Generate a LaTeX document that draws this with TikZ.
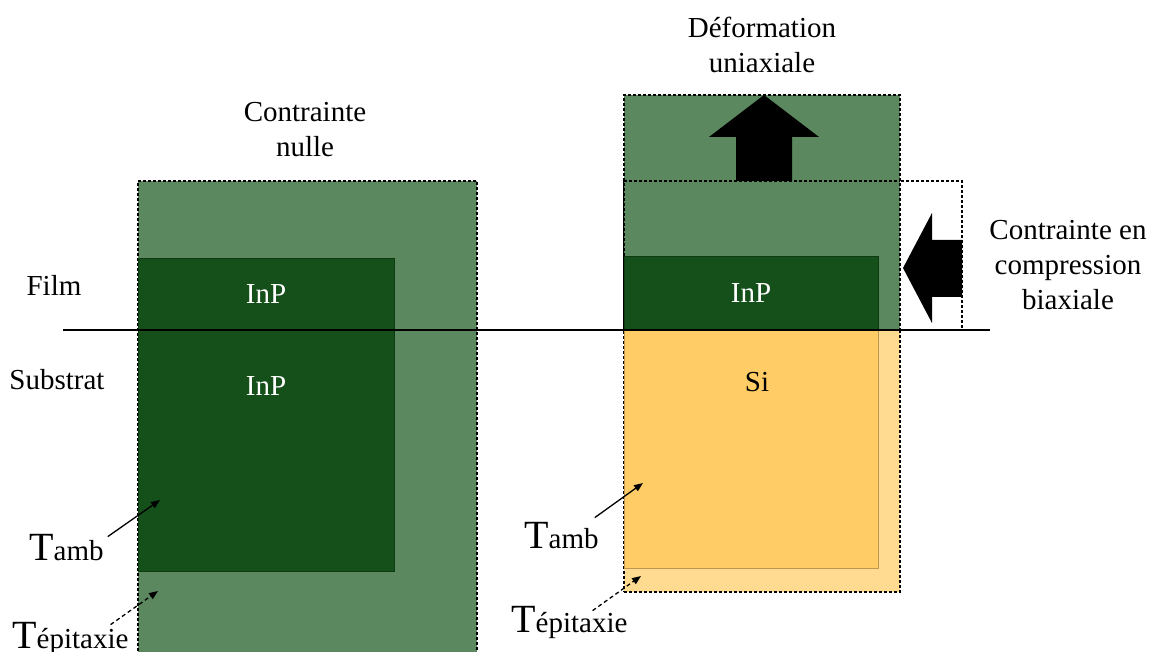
\documentclass[tikz,border=0pt]{standalone}
\usepackage{fontspec}
\setmainfont{Liberation Serif}
\usepackage{xcolor}
\usepackage{tikz}
\usetikzlibrary{arrows.meta, positioning, calc}

\definecolor{filmlight}{RGB}{91,136,95}
\definecolor{filmdark}{RGB}{21,79,26}
\definecolor{filmedge}{RGB}{14,58,18}
\definecolor{sidark}{RGB}{255,204,102}
\definecolor{silight}{RGB}{255,218,145}
\definecolor{siedge}{RGB}{190,150,80}

\begin{document}
\begin{tikzpicture}[
    x=1pt, y=-1pt,
    txt/.style={font=\fontsize{29}{35}\selectfont, align=center, inner sep=0pt},
    layer/.style={rectangle, inner sep=0pt, outer sep=0pt, anchor=north west},
    relaxed/.style={layer, draw=black, dash pattern=on 3pt off 2pt, line width=1.1pt},
    crystal/.style={layer, draw=filmedge, line width=0.8pt, fill=filmdark},
    silicon/.style={layer, draw=siedge, line width=0.8pt, fill=sidark},
    pointer/.style={-{Triangle[length=9pt, width=7pt]}, line width=1.3pt},
    epipointer/.style={pointer, dash pattern=on 4pt off 3pt}
]
\useasboundingbox (0,0) rectangle (1157,652);

% Left: InP on InP, no strain
\node[relaxed, fill=filmlight, minimum width=339pt, minimum height=480pt] (nullOuter) at (138,181) {};
\node[crystal, minimum width=256pt, minimum height=72pt] (nullFilm) at (138,258) {};
\node[crystal, minimum width=256pt, minimum height=241pt] (nullSub) at (138,330) {};
\node[txt, text=white] (nullFilmLbl) at (nullFilm.center) {InP};
\node[txt, text=white] (nullSubLbl) at (266,386) {InP};
\node[txt] (nullTitle) at (305,130) {Contrainte\\nulle};

% Right: InP on Si
\node[relaxed, fill=silight, minimum width=276pt, minimum height=262pt] (siOuter) at (624,330) {};
\node[silicon, minimum width=254pt, minimum height=238pt] (siSub) at (624,330) {};
\node[txt] (siLbl) at (757,382) {Si};
\node[relaxed, minimum width=338pt, minimum height=149pt] (origBox) at (624,181) {};
\node[relaxed, fill=filmlight, minimum width=276pt, minimum height=235pt] (strainOuter) at (624,95) {};
\draw[dash pattern=on 3pt off 2pt, line width=1.1pt] (origBox.north west) -- (strainOuter.east |- origBox.north);
\node[crystal, minimum width=254pt, minimum height=74pt] (strainFilm) at (624,256) {};
\node[txt, text=white] (strainFilmLbl) at (strainFilm.center) {InP};
\node[txt] (uniTitle) at (762,45) {Déformation\\uniaxiale};
\node[txt] (biTitle) at (1068,265) {Contrainte en\\compression\\biaxiale};

% block arrows
\fill[black] (736,181) -- (736,137) -- (709,137) -- (764,95) -- (819,137)
    -- (792,137) -- (792,181) -- cycle;
\fill[black] (962,240) -- (932,240) -- (932,213) -- (903,268) -- (932,323)
    -- (932,297) -- (962,297) -- cycle;

% interface
\coordinate (ifLeft) at (63,330);
\coordinate (ifRight) at (990,330);
\draw[line width=1.3pt] (ifLeft) -- (ifRight);
\node[txt] (filmLbl) at (54,285) {Film};
\node[txt] (subLbl) at (57,380) {Substrat};

% temperatures
\node[txt, anchor=base west] (ambL) at (29,560) {{\fontsize{40}{40}\selectfont T}amb};
\node[txt, anchor=base west] (epiL) at (12,648) {{\fontsize{40}{40}\selectfont T}épitaxie};
\node[txt, anchor=base west] (ambR) at (524,548) {{\fontsize{40}{40}\selectfont T}amb};
\node[txt, anchor=base west] (epiR) at (511,632) {{\fontsize{40}{40}\selectfont T}épitaxie};
\coordinate (ambTipL) at (160,500);
\coordinate (epiTipL) at (158,591);
\coordinate (ambTipR) at (643,483);
\coordinate (epiTipR) at (641,576);
\draw[pointer] ([shift={(4,3)}]ambL.north east) -- (ambTipL);
\draw[epipointer] ([shift={(-18,3)}]epiL.north east) -- (epiTipL);
\draw[pointer] ([shift={(-4,-4)}]ambR.north east) -- (ambTipR);
\draw[epipointer] ([shift={(-35,5)}]epiR.north east) -- (epiTipR);

\end{tikzpicture}
\end{document}
